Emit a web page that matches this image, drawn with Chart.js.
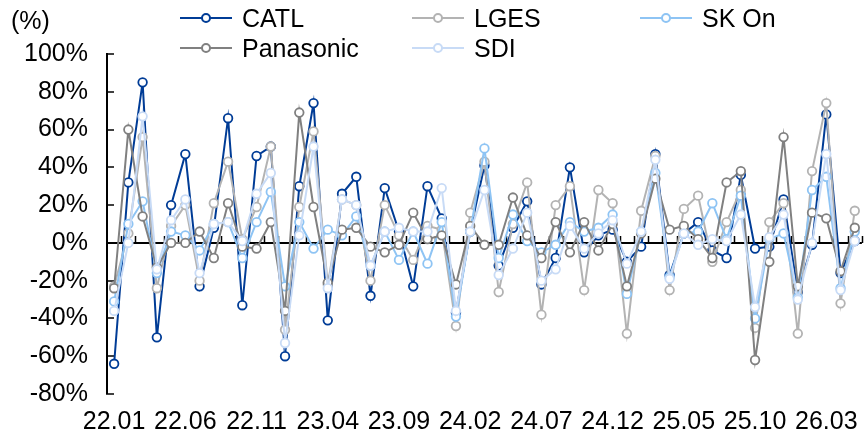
<!DOCTYPE html>
<html>
<head>
<meta charset="utf-8">
<script src="https://cdn.jsdelivr.net/npm/chart.js@4.4.1/dist/chart.umd.min.js"></script>
<style>
  body { margin: 0; background: #fff; }
  #wrap { position: relative; width: 868px; height: 435px; font-family: 'Liberation Sans', Arial, sans-serif; }
  #unit { position: absolute; left: 11px; top: 6px; font-size: 25px; color: #000; }
  .lg { position: absolute; height: 30px; }
  .lg .ln { position: absolute; left: 0; top: 14px; width: 52px; height: 2px; }
  .lg .mk { position: absolute; left: 21px; top: 10px; width: 6px; height: 6px; border-radius: 50%; background: #fff; border: 2px solid; }
  .lg .tx { position: absolute; left: 62px; top: 0; font-size: 25px; line-height: 30px; white-space: nowrap; color: #000; }
</style>
</head>
<body>
<div id="wrap">
  <canvas id="myChart" width="868" height="435"></canvas>
  <div id="unit">(%)</div>
</div>
<script>
// data (monthly change, %)
const categories = [
  '22.01','22.02','22.03','22.04','22.05','22.06','22.07','22.08','22.09','22.10','22.11','22.12',
  '23.01','23.02','23.03','23.04','23.05','23.06','23.07','23.08','23.09','23.10','23.11','23.12',
  '24.01','24.02','24.03','24.04','24.05','24.06','24.07','24.08','24.09','24.10','24.11','24.12',
  '25.01','25.02','25.03','25.04','25.05','25.06','25.07','25.08','25.09','25.10','25.11','25.12',
  '26.01','26.02','26.03','26.04','26.05'
];
const catl = [-64, 32, 85, -50, 20, 47, -23, 8, 66, -33, 46, 51, -60, 30, 74, -41, 26, 35, -28, 29, 6, -23, 30, 13,
  -37, 6, 41, -12, 8, 22, -22, -8, 40, -5, 4, 7, -10, -2, 47, -17, 5, 11, -4, -8, 36, -3, -2, 23, -26, -1, 68, -16, 1];
const lges = [-23, 5, 56, -24, 9, 20, -20, 21, 43, 2, 19, 51, -46, 19, 59, -22, 23, 20, -20, 20, 4, -9, 9, 7,
  -44, 16, 43, -26, 10, 32, -38, 20, 30, -25, 28, 21, -48, 17, 46, -25, 18, 25, -10, 11, 28, -45, 11, 21, -48, 38, 74, -32, 17];
const skon = [-31, 10, 22, -16, 6, 4, -4, 10, 11, -8, 11, 27, -23, 11, -3, 7, 4, 14, -12, 6, -9, 6, -11, 11,
  -39, 6, 50, -8, 15, 1, -5, -1, 11, 6, 8, 15, -27, 6, 37, -18, 5, 6, 21, 2, 25, -40, 2, 5, -29, 28, 35, -24, 6];
const panasonic = [-24, 60, 14, -13, 0, 0, 6, -8, 21, -2, -3, 11, -36, 69, 19, -21, 7, 8, -2, -5, -1, 16, 2, 4,
  -22, 9, -1, -1, 24, 4, -8, 11, -5, 11, -4, 10, -23, 5, 34, 7, 9, 2, -8, 32, 38, -62, -10, 56, -23, 16, 13, -15, 8];
const sdi = [-36, 0, 67, -14, 12, 23, -16, 10, 11, 1, 26, 37, -53, 4, 51, -24, 23, 20, -12, 6, 8, 6, 6, 29,
  -36, 6, 28, -17, -3, 16, -20, -14, 9, -3, 5, 12, -11, 6, 44, -19, 5, -1, 2, 1, 15, -34, 3, 15, -30, 0, 47, -25, 1];
const yTicks = [-80, -60, -40, -20, 0, 20, 40, 60, 80, 100];

const FONT = "'Liberation Sans', Arial, sans-serif";

const series = [
  { label: 'CATL', data: catl, color: '#003c96', order: 5 },
  { label: 'LGES', data: lges, color: '#b3b3b3', order: 4 },
  { label: 'SK On', data: skon, color: '#8ec4f4', order: 3 },
  { label: 'Panasonic', data: panasonic, color: '#808080', order: 2 },
  { label: 'SDI', data: sdi, color: '#c8dbf6', order: 1 }
];

// legend (html, 3 columns like the original)
const legendSpots = [[180, 3], [412, 3], [640, 3], [180, 33], [412, 33]];
const wrap = document.getElementById('wrap');
series.forEach((s, i) => {
  const d = document.createElement('div');
  d.className = 'lg';
  d.style.left = legendSpots[i][0] + 'px';
  d.style.top = legendSpots[i][1] + 'px';
  d.innerHTML = '<div class="ln" style="background:' + s.color + '"></div>' +
    '<div class="mk" style="border-color:' + s.color + '"></div>' +
    '<div class="tx">' + s.label + '</div>';
  wrap.appendChild(d);
});

// small tick marks sitting on the zero line
const zeroTicks = {
  id: 'zeroTicks',
  beforeDatasetsDraw(chart) {
    const { ctx, scales: { x, y } } = chart;
    const y0 = y.getPixelForValue(0);
    const step = x.getPixelForValue(1) - x.getPixelForValue(0);
    ctx.save();
    ctx.strokeStyle = '#000';
    ctx.lineWidth = 1.5;
    ctx.beginPath();
    for (let i = 1; i <= categories.length; i++) {
      const px = Math.round(x.getPixelForValue(0) - step / 2 + i * step) + 0.5;
      ctx.moveTo(px, y0);
      ctx.lineTo(px, y0 - 7);
    }
    ctx.stroke();
    ctx.restore();
  }
};

const ctx = document.getElementById('myChart').getContext('2d');

const myChart = new Chart(ctx, {
  type: 'line',
  data: {
    labels: categories,
    datasets: series.map(s => ({
      label: s.label,
      data: s.data,
      order: s.order,
      borderColor: s.color,
      borderWidth: 2,
      pointRadius: 4.3,
      pointBorderWidth: 1.8,
      pointBackgroundColor: '#fff',
      pointBorderColor: s.color,
      tension: 0
    }))
  },
  options: {
    responsive: false,
    animation: false,
    layout: { padding: { top: 54, right: 3, left: 0, bottom: 0 } },
    plugins: {
      legend: { display: false },
      tooltip: { enabled: false }
    },
    scales: {
      x: {
        offset: true,
        grid: { display: false, drawTicks: false },
        border: { display: false },
        ticks: {
          autoSkip: false,
          maxRotation: 0,
          minRotation: 0,
          padding: 13,
          color: '#000',
          font: { family: FONT, size: 25 },
          callback: (v, i) => (i % 5 === 0 ? categories[i] : '')
        },
        afterFit: (scale) => { scale.height = 40; }
      },
      y: {
        min: -80,
        max: 100,
        afterBuildTicks: (scale) => { scale.ticks = yTicks.map(v => ({ value: v })); },
        border: { display: true, color: '#000', width: 2 },
        grid: {
          color: (c) => (c.tick && c.tick.value === 0 ? '#000' : 'rgba(0,0,0,0)'),
          lineWidth: (c) => (c.tick && c.tick.value === 0 ? 2 : 0),
          tickColor: '#000',
          tickWidth: 1.5,
          tickLength: -7
        },
        ticks: {
          padding: 26,
          color: '#000',
          font: { family: FONT, size: 25 },
          callback: (v) => v + '%'
        },
        afterFit: (scale) => { scale.width = 107; }
      }
    }
  },
  plugins: [zeroTicks]
});
</script>
</body>
</html>
